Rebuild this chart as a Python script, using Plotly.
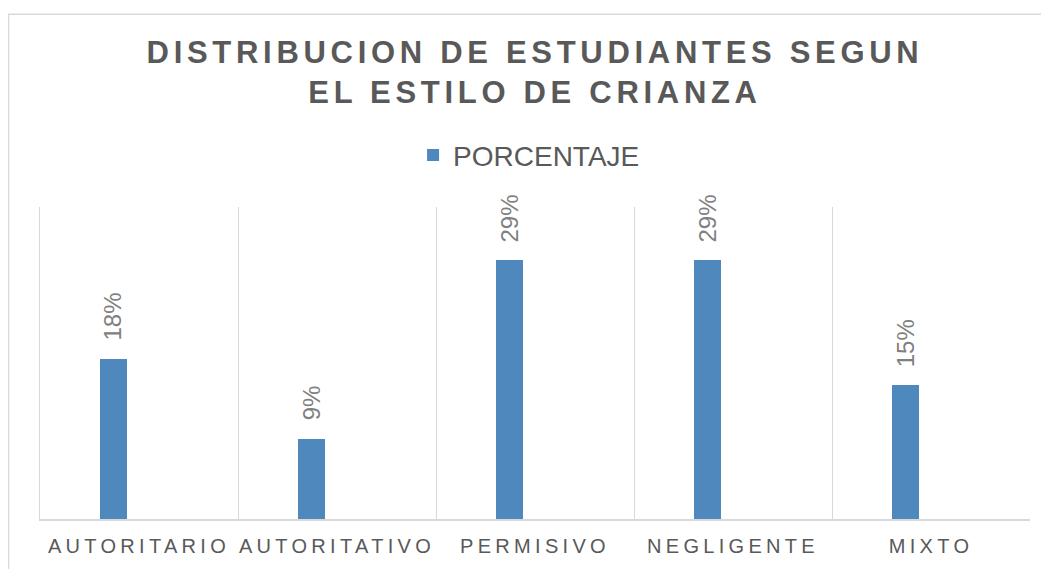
import plotly.graph_objects as go

categories = ["AUTORITARIO", "AUTORITATIVO", "PERMISIVO", "NEGLIGENTE", "MIXTO"]
porcentaje = [0.18, 0.09, 0.29, 0.29, 0.15]
value_labels = ["18%", "9%", "29%", "29%", "15%"]
series_name = "PORCENTAJE"
title_lines = ["DISTRIBUCION DE ESTUDIANTES SEGUN", "EL ESTILO DE CRIANZA"]

BAR_COLOR = "#4F88BD"
GRID = "#D9D9D9"
TEXT = "#595959"
LABEL = "#808080"

# plot area (layout px): x 32..1022, y 199..513 (page body adds 8px margin)
PL, PR, PT, PB = 32, 1022, 199, 513
W, H = 1041, 561
PW, PH = PR - PL, PB - PT

fig = go.Figure()
fig.add_trace(go.Bar(
    x=categories, y=porcentaje, name=series_name,
    marker=dict(color=BAR_COLOR, line=dict(width=0)),
    offset=-0.198, width=0.136, showlegend=True,
))

for c, v, t in zip(categories, porcentaje, value_labels):
    fig.add_annotation(
        x=c, y=v, text=t, showarrow=False, textangle=-90,
        xshift=-26, yanchor="bottom", yshift=16,
        font=dict(family="Liberation Sans, Arial", size=24, color=LABEL),
    )

# outer chart frame
fig.add_shape(type="rect", xref="paper", yref="paper",
              x0=(0.5 - PL) / PW, x1=(1070 - PL) / PW,
              y0=(PB - 600) / PH, y1=(PB - 5) / PH,
              line=dict(color=GRID, width=1.5), fillcolor="rgba(0,0,0,0)", layer="below")

fig.update_layout(
    width=W, height=H,
    margin=dict(l=PL, r=W - PR, t=PT, b=H - PB),
    paper_bgcolor="white", plot_bgcolor="white",
    title=dict(text="<br>".join(title_lines), x=0.5, xref="paper", xanchor="center",
               y=1 - 55 / H, yref="container", yanchor="top",
               font=dict(family="Liberation Sans, Arial", size=31, color=TEXT, weight="bold")),
    legend=dict(orientation="h", x=0.494, xanchor="center", y=(PB - 147) / PH, yanchor="middle",
                font=dict(family="Liberation Sans, Arial", size=28, color=TEXT),
                itemwidth=30, bgcolor="rgba(0,0,0,0)"),
    xaxis=dict(type="category", tickson="boundaries", showgrid=True, gridcolor=GRID, gridwidth=1,
               showline=True, linecolor=GRID, linewidth=1.5, ticks="",
               tickfont=dict(family="Liberation Sans, Arial", size=20, color=TEXT),
               ticklabelstandoff=8, range=[-0.5, 4.5]),
    yaxis=dict(range=[0, 0.35], showgrid=False, zeroline=False, showticklabels=False,
               ticks="", showline=True, linecolor=GRID, linewidth=1),
    bargap=0,
)

post = """
var gd = document.getElementById('{plot_id}');
gd.querySelectorAll('.gtitle').forEach(function(e){ e.style.letterSpacing='4.7px'; });
gd.querySelectorAll('.xtick text').forEach(function(e){ e.style.letterSpacing='4.3px'; });
"""
fig.write_html("out.html", post_script=post)
